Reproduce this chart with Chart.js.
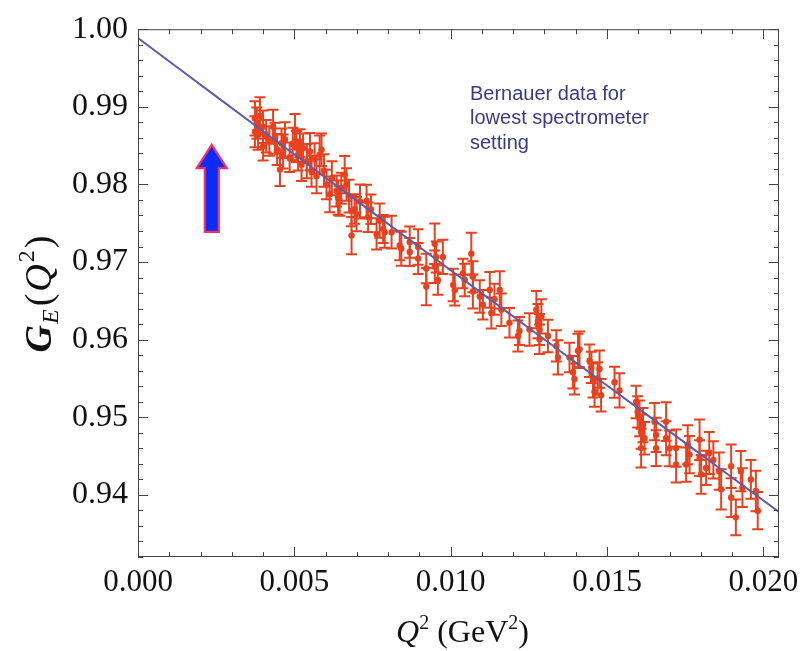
<!DOCTYPE html>
<html>
<head>
<meta charset="utf-8">
<script src="https://cdn.jsdelivr.net/npm/chart.js@4"></script>
<style>
  html, body { margin: 0; padding: 0; background: #fff; }
  canvas { display: block; }
</style>
</head>
<body>
<canvas id="geChart" width="811" height="651"></canvas>
<script>
'use strict';

// Q^2 (GeV^2), G_E and its error
const q2 = [
  0.00374, 0.00374, 0.00380, 0.00384, 0.00390, 0.00400, 0.00400, 0.00410, 0.00420, 0.00432,
  0.00438, 0.00445, 0.00454, 0.00459, 0.00464, 0.00470, 0.00485, 0.00495, 0.00502, 0.00507,
  0.00512, 0.00518, 0.00523, 0.00528, 0.00540, 0.00550, 0.00555, 0.00565, 0.00571, 0.00581,
  0.00587, 0.00595, 0.00603, 0.00613, 0.00620, 0.00635, 0.00640, 0.00645, 0.00650, 0.00661,
  0.00667, 0.00675, 0.00683, 0.00683, 0.00693, 0.00699, 0.00710, 0.00731, 0.00736, 0.00745,
  0.00763, 0.00773, 0.00784, 0.00789, 0.00811, 0.00837, 0.00842, 0.00869, 0.00869, 0.00896,
  0.00896, 0.00922, 0.00922, 0.00949, 0.00949, 0.00954, 0.00959, 0.00975, 0.01008, 0.01013,
  0.01039, 0.01045, 0.01066, 0.01071, 0.01071, 0.01093, 0.01103, 0.01125, 0.01130, 0.01140,
  0.01157, 0.01162, 0.01188, 0.01215, 0.01220, 0.01252, 0.01274, 0.01279, 0.01284, 0.01284,
  0.01290, 0.01311, 0.01338, 0.01343, 0.01380, 0.01391, 0.01396, 0.01407, 0.01412, 0.01444,
  0.01450, 0.01455, 0.01460, 0.01470, 0.01476, 0.01481, 0.01524, 0.01540, 0.01593, 0.01598,
  0.01604, 0.01609, 0.01609, 0.01615, 0.01620, 0.01652, 0.01657, 0.01657, 0.01689, 0.01689,
  0.01700, 0.01721, 0.01721, 0.01753, 0.01758, 0.01764, 0.01796, 0.01796, 0.01801, 0.01817,
  0.01827, 0.01840, 0.01859, 0.01865, 0.01897, 0.01897, 0.01912, 0.01928, 0.01933, 0.01960,
  0.01976, 0.01982
];
const ge = [
  0.98852, 0.98679, 0.98790, 0.98637, 0.98883, 0.98743, 0.98488, 0.98620, 0.98560, 0.98743,
  0.98595, 0.98450, 0.98191, 0.98531, 0.98424, 0.98580, 0.98350, 0.98520, 0.98679, 0.98488,
  0.98380, 0.98531, 0.98255, 0.98467, 0.98300, 0.98424, 0.98170, 0.98330, 0.98106, 0.98382,
  0.98446, 0.98180, 0.98000, 0.97873, 0.98080, 0.97915, 0.97830, 0.97787, 0.97950, 0.98127,
  0.98000, 0.97850, 0.97660, 0.97341, 0.97682, 0.97618, 0.97780, 0.97787, 0.97576, 0.97680,
  0.97363, 0.97533, 0.97427, 0.97385, 0.97385, 0.97214, 0.97172, 0.97257, 0.97130, 0.97194,
  0.97045, 0.96917, 0.96684, 0.97236, 0.96939, 0.97066, 0.96768, 0.97066, 0.96705, 0.96641,
  0.96854, 0.96768, 0.97108, 0.96811, 0.96620, 0.96557, 0.96450, 0.96641, 0.96344, 0.96520,
  0.96641, 0.96386, 0.96217, 0.96047, 0.96111, 0.96132, 0.96386, 0.96238, 0.96132, 0.96004,
  0.96300, 0.96047, 0.95920, 0.95771, 0.95771, 0.95580, 0.95494, 0.95856, 0.95876, 0.95728,
  0.95643, 0.95474, 0.95325, 0.95500, 0.95622, 0.95283, 0.95452, 0.95346, 0.95197, 0.95070,
  0.94985, 0.94815, 0.94603, 0.94900, 0.94730, 0.94943, 0.94773, 0.94603, 0.94943, 0.94730,
  0.94600, 0.94603, 0.94391, 0.94391, 0.94646, 0.94519, 0.94710, 0.94475, 0.94264, 0.94348,
  0.94539, 0.94450, 0.94306, 0.94072, 0.94369, 0.93966, 0.93711, 0.94306, 0.94093, 0.94200,
  0.94051, 0.93796
];
const geErr = [
  0.0022, 0.0020, 0.0020, 0.0019, 0.0024, 0.0021, 0.0018, 0.0021, 0.0019, 0.0022,
  0.0020, 0.0020, 0.0021, 0.0019, 0.0022, 0.0022, 0.0019, 0.0021, 0.0023, 0.0020,
  0.0020, 0.0018, 0.0021, 0.0019, 0.0022, 0.0024, 0.0020, 0.0020, 0.0022, 0.0025,
  0.0021, 0.0021, 0.0019, 0.0023, 0.0022, 0.0020, 0.0022, 0.0019, 0.0020, 0.0024,
  0.0021, 0.0021, 0.0020, 0.0024, 0.0019, 0.0022, 0.0022, 0.0021, 0.0019, 0.0019,
  0.0020, 0.0022, 0.0018, 0.0020, 0.0021, 0.0019, 0.0022, 0.0020, 0.0018, 0.0023,
  0.0020, 0.0019, 0.0024, 0.0026, 0.0021, 0.0020, 0.0019, 0.0022, 0.0021, 0.0020,
  0.0019, 0.0021, 0.0027, 0.0020, 0.0022, 0.0021, 0.0019, 0.0023, 0.0020, 0.0020,
  0.0024, 0.0021, 0.0019, 0.0020, 0.0018, 0.0021, 0.0024, 0.0022, 0.0020, 0.0019,
  0.0022, 0.0021, 0.0020, 0.0022, 0.0019, 0.0021, 0.0020, 0.0022, 0.0023, 0.0021,
  0.0020, 0.0022, 0.0019, 0.0021, 0.0024, 0.0021, 0.0020, 0.0022, 0.0021, 0.0020,
  0.0023, 0.0022, 0.0025, 0.0022, 0.0021, 0.0024, 0.0022, 0.0023, 0.0025, 0.0022,
  0.0023, 0.0024, 0.0023, 0.0022, 0.0025, 0.0024, 0.0026, 0.0023, 0.0025, 0.0022,
  0.0027, 0.0024, 0.0024, 0.0026, 0.0028, 0.0025, 0.0023, 0.0026, 0.0025, 0.0025,
  0.0026, 0.0024
];

// fit curve
const fitQ2 = [0, 0.0025, 0.005, 0.0075, 0.010, 0.0125, 0.015, 0.0175, 0.0205];
const fitGe = [0.99885, 0.99135, 0.98385, 0.97640, 0.96895, 0.96150, 0.95410, 0.94670, 0.93780];

// axis ticks
const xTicks = [0, 0.005, 0.010, 0.015, 0.020];
const yTicks = [0.94, 0.95, 0.96, 0.97, 0.98, 0.99, 1.00];
const noteLines = ['Bernauer data for', 'lowest spectrometer', 'setting'];

const red = '#e8411f';
const serif = '"Liberation Serif", "Times New Roman", serif';

// vertical error bars with caps, drawn under the points
const errorBars = {
  id: 'errorBars',
  beforeDatasetsDraw(chart) {
    const { ctx, chartArea: a, scales: { x, y } } = chart;
    ctx.save();
    ctx.beginPath();
    ctx.rect(a.left, a.top, a.right - a.left, a.bottom - a.top);
    ctx.clip();
    ctx.strokeStyle = red;
    ctx.lineWidth = 2;
    q2.forEach((q, i) => {
      const px = x.getPixelForValue(q);
      const top = y.getPixelForValue(ge[i] + geErr[i]);
      const bot = y.getPixelForValue(ge[i] - geErr[i]);
      ctx.beginPath();
      ctx.moveTo(px, top); ctx.lineTo(px, bot);
      ctx.moveTo(px - 5.5, top); ctx.lineTo(px + 5.5, top);
      ctx.moveTo(px - 5.5, bot); ctx.lineTo(px + 5.5, bot);
      ctx.stroke();
    });
    ctx.restore();
  }
};

// frame, inward ticks on four sides, axis titles, arrow and note
const decor = {
  id: 'decor',
  afterDraw(chart) {
    const { ctx, chartArea: a, scales: { x, y } } = chart;
    ctx.save();
    ctx.strokeStyle = '#444';
    ctx.lineWidth = 1;
    ctx.strokeRect(a.left + 0.5, a.top + 0.5, a.right - a.left - 1, a.bottom - a.top - 1);

    ctx.beginPath();
    for (let i = 0; i <= 20; i++) {
      const v = i * 0.001;
      const px = Math.round(x.getPixelForValue(v)) + 0.5;
      const len = i % 5 === 0 ? 10 : 5;
      ctx.moveTo(px, a.bottom); ctx.lineTo(px, a.bottom - len);
      ctx.moveTo(px, a.top); ctx.lineTo(px, a.top + len);
    }
    for (let i = 0; i <= 34; i++) {
      const v = 0.932 + i * 0.002;
      const py = Math.round(y.getPixelForValue(v)) + 0.5;
      const major = Math.abs(Math.round(v * 100) - v * 100) < 1e-6;
      const len = major ? 10 : 5;
      ctx.moveTo(a.left, py); ctx.lineTo(a.left + len, py);
      ctx.moveTo(a.right, py); ctx.lineTo(a.right - len, py);
    }
    ctx.stroke();

    const drawParts = (list, cx, base) => {
      let w = 0;
      list.forEach(p => { ctx.font = p.f; w += ctx.measureText(p.t).width + (p.gap || 0); });
      let cur = cx - w / 2;
      list.forEach(p => {
        ctx.font = p.f;
        ctx.fillText(p.t, cur, base + p.dy);
        cur += ctx.measureText(p.t).width + (p.gap || 0);
      });
    };

    // x title: Q^2 (GeV^2)
    ctx.fillStyle = '#111';
    ctx.textBaseline = 'alphabetic';
    drawParts([
      { t: 'Q', f: 'italic 32px ' + serif, dy: 0 },
      { t: '2', f: '20px ' + serif, dy: -13 },
      { t: ' (GeV', f: '32px ' + serif, dy: 0 },
      { t: '2', f: '20px ' + serif, dy: -13 },
      { t: ')', f: '32px ' + serif, dy: 0 }
    ], (a.left + a.right) / 2 + 4, 642);

    // y title: G_E(Q^2)
    ctx.save();
    ctx.translate(51, 294);
    ctx.rotate(-Math.PI / 2);
    drawParts([
      { t: 'G', f: 'italic bold 38px ' + serif, dy: 0, gap: 1 },
      { t: 'E', f: 'italic 24px ' + serif, dy: 7, gap: 3 },
      { t: '(', f: '38px ' + serif, dy: 0, gap: 2 },
      { t: 'Q', f: 'italic 38px ' + serif, dy: 0, gap: 2 },
      { t: '2', f: '24px ' + serif, dy: -17, gap: 2 },
      { t: ')', f: '38px ' + serif, dy: 0 }
    ], 0, 0);
    ctx.restore();

    // note text
    ctx.fillStyle = '#3a3a88';
    ctx.font = '20px "Liberation Sans", Arial, sans-serif';
    ctx.textBaseline = 'middle';
    noteLines.forEach((s, i) => ctx.fillText(s, 470, 94 + i * 24.5));

    // blue arrow pointing up
    const ax = x.getPixelForValue(0.00236);
    const tip = y.getPixelForValue(0.9851);
    const neck = y.getPixelForValue(0.9821);
    const tail = y.getPixelForValue(0.9739);
    ctx.beginPath();
    ctx.moveTo(ax, tip);
    ctx.lineTo(ax + 15, neck);
    ctx.lineTo(ax + 7, neck);
    ctx.lineTo(ax + 7, tail);
    ctx.lineTo(ax - 7, tail);
    ctx.lineTo(ax - 7, neck);
    ctx.lineTo(ax - 15, neck);
    ctx.closePath();
    ctx.fillStyle = '#0a2cf5';
    ctx.fill();
    ctx.lineWidth = 2.2;
    ctx.strokeStyle = '#f0306a';
    ctx.stroke();
    ctx.restore();
  }
};

const points = q2.map((q, i) => ({ x: q, y: ge[i] }));
const fit = fitQ2.map((q, i) => ({ x: q, y: fitGe[i] }));

new Chart(document.getElementById('geChart'), {
  type: 'scatter',
  data: {
    datasets: [
      {
        label: 'fit',
        data: fit,
        showLine: true,
        borderColor: '#5c5caa',
        borderWidth: 2,
        pointRadius: 0,
        tension: 0.3,
        fill: false
      },
      {
        label: 'Bernauer data',
        data: points,
        pointRadius: 3.2,
        pointBackgroundColor: red,
        pointBorderWidth: 0,
        showLine: false
      }
    ]
  },
  options: {
    responsive: false,
    animation: false,
    layout: { padding: { top: 23, right: 32, left: 0, bottom: 0 } },
    plugins: {
      legend: { display: false },
      tooltip: { enabled: false }
    },
    scales: {
      x: {
        type: 'linear',
        min: 0,
        max: 0.0205,
        grid: { display: false, drawTicks: false },
        border: { display: false },
        afterBuildTicks: (s) => { s.ticks = xTicks.map(v => ({ value: v })); },
        afterFit: (s) => { s.height = 94; },
        ticks: {
          padding: 7,
          color: '#111',
          maxRotation: 0,
          font: { family: serif, size: 31 },
          callback: (v) => Number(v).toFixed(3)
        }
      },
      y: {
        type: 'linear',
        min: 0.932,
        max: 1.0,
        grid: { display: false, drawTicks: false },
        border: { display: false },
        afterBuildTicks: (s) => { s.ticks = yTicks.map(v => ({ value: v })); },
        afterFit: (s) => { s.width = 138; },
        ticks: {
          padding: 10,
          color: '#111',
          font: { family: serif, size: 32 },
          callback: (v) => Number(v).toFixed(2)
        }
      }
    }
  },
  plugins: [errorBars, decor]
});
</script>
</body>
</html>
